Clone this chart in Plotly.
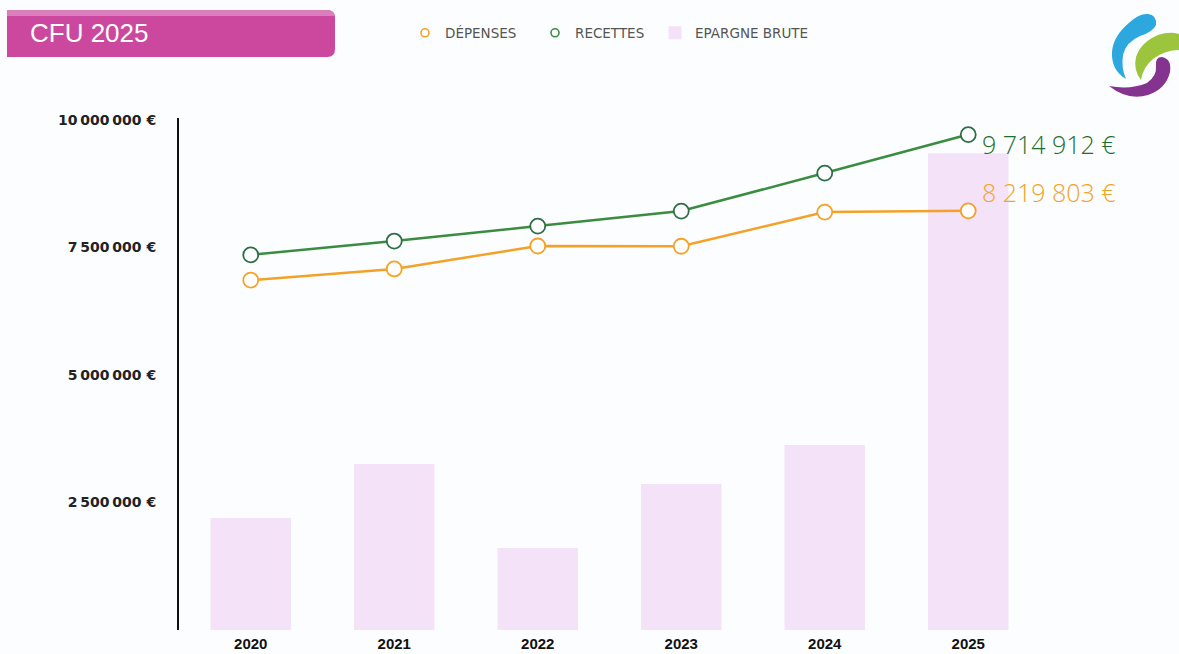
import plotly.graph_objects as go

# Data
annees = ["2020", "2021", "2022", "2023", "2024", "2025"]
depenses = [6860000, 7080000, 7530000, 7525000, 8195000, 8219803]
recettes = [7355000, 7627000, 7920000, 8215000, 8960000, 9714912]
epargne_brute = [2195000, 3255000, 1608000, 2862000, 3627000, 9350000]
y_ticks = [2500000, 5000000, 7500000, 10000000]
y_tick_labels = ["2\u2009500\u2009000 €", "5\u2009000\u2009000 €", "7\u2009500\u2009000 €", "10\u2009000\u2009000 €"]

ORANGE = "#f4a127"
GREEN = "#3a8c40"
GREEN_DARK = "#2c6e46"
GREEN_TEXT = "#1c6f2e"
BAR = "#f4e2f8"

W, H = 1179, 654
L, R, T, B = 179, 139, 118, 24
PW, PH = W - L - R, H - T - B


def px(x, y):
    """Pixel position on the page -> paper coordinates."""
    return (x - L) / PW, (H - B - y) / PH


def path(cmds):
    out = []
    for cmd, pts in cmds:
        coords = []
        for (x, y) in pts:
            a, b = px(x, y)
            coords.append(f"{a:.5f},{b:.5f}")
        out.append(cmd + " " + " ".join(coords))
    return " ".join(out) + " Z"


def fmt(v):
    return f"{v:,}".replace(",", " ") + " €"


fig = go.Figure()

fig.add_trace(go.Bar(
    x=annees, y=epargne_brute, name="EPARGNE BRUTE",
    marker=dict(color=BAR, line=dict(width=0)),
    showlegend=False, hoverinfo="skip",
))
fig.add_trace(go.Scatter(
    x=annees, y=depenses, name="DÉPENSES", mode="lines+markers",
    line=dict(color=ORANGE, width=2.5),
    marker=dict(symbol="circle", size=15, color="white", line=dict(color=ORANGE, width=1.8)),
    showlegend=False,
))
fig.add_trace(go.Scatter(
    x=annees, y=recettes, name="RECETTES", mode="lines+markers",
    line=dict(color=GREEN, width=2.5),
    marker=dict(symbol="circle", size=15, color="white", line=dict(color=GREEN_DARK, width=1.8)),
    showlegend=False,
))

# Legend entries (small symbols)
fig.add_trace(go.Scatter(x=[None], y=[None], name="DÉPENSES", mode="markers", legend="legend",
                         marker=dict(symbol="circle", size=8, color="white", line=dict(color=ORANGE, width=1.6))))
fig.add_trace(go.Scatter(x=[None], y=[None], name="RECETTES", mode="markers", legend="legend",
                         marker=dict(symbol="circle", size=8, color="white", line=dict(color=GREEN, width=1.6))))
fig.add_trace(go.Scatter(x=[None], y=[None], name="EPARGNE BRUTE", mode="markers", legend="legend2",
                         marker=dict(symbol="square", size=13, color=BAR)))

# End-of-line value labels
last = len(annees) - 1
fig.add_annotation(x=last, y=recettes[-1], text=fmt(recettes[-1]), showarrow=False,
                   xanchor="left", yanchor="middle", xshift=12, yshift=-9,
                   font=dict(family="Open Sans, Noto Sans, sans-serif", size=25, color=GREEN_TEXT, weight=300))
fig.add_annotation(x=last, y=depenses[-1], text=fmt(depenses[-1]), showarrow=False,
                   xanchor="left", yanchor="middle", xshift=12, yshift=19,
                   font=dict(family="Open Sans, Noto Sans, sans-serif", size=25, color=ORANGE, weight=300))

shapes = []
# Title banner with rounded right end
banner = path([
    ("M", [(7, 10)]),
    ("L", [(327, 10)]),
    ("Q", [(335, 10), (335, 18)]),
    ("L", [(335, 49)]),
    ("Q", [(335, 57), (327, 57)]),
    ("L", [(7, 57)]),
])
shapes.append(dict(type="path", xref="paper", yref="paper", path=banner,
                   fillcolor="#cc479e", line=dict(width=0)))
stripe = path([
    ("M", [(7, 10)]),
    ("L", [(327, 10)]),
    ("Q", [(334, 10), (335, 16)]),
    ("L", [(7, 16)]),
])
shapes.append(dict(type="path", xref="paper", yref="paper", path=stripe,
                   fillcolor="#da7fbd", line=dict(width=0)))

# Logo swooshes
blue = path([
    ("M", [(1148, 14)]),
    ("Q", [(1157, 15), (1156, 25)]),
    ("Q", [(1153, 32), (1140, 36)]),
    ("Q", [(1126, 42), (1123, 55)]),
    ("Q", [(1121, 68), (1126, 79)]),
    ("Q", [(1111, 70), (1112, 52)]),
    ("Q", [(1113, 36), (1130, 22)]),
    ("Q", [(1140, 13), (1148, 14)]),
])
green = path([
    ("M", [(1179, 34)]),
    ("L", [(1179, 50)]),
    ("Q", [(1165, 50), (1153, 59)]),
    ("Q", [(1143, 67), (1141, 80)]),
    ("Q", [(1133, 70), (1136, 57)]),
    ("Q", [(1141, 42), (1158, 35)]),
    ("Q", [(1170, 31), (1179, 34)]),
])
purple = path([
    ("M", [(1162, 57)]),
    ("Q", [(1172, 59), (1170, 72)]),
    ("Q", [(1166, 89), (1148, 95)]),
    ("Q", [(1128, 101), (1109, 86)]),
    ("Q", [(1130, 90), (1147, 83)]),
    ("Q", [(1157, 76), (1156, 66)]),
    ("Q", [(1155, 57), (1162, 57)]),
])
shapes.append(dict(type="path", xref="paper", yref="paper", path=blue, fillcolor="#2ca8de", line=dict(width=0)))
shapes.append(dict(type="path", xref="paper", yref="paper", path=green, fillcolor="#9cc43c", line=dict(width=0)))
shapes.append(dict(type="path", xref="paper", yref="paper", path=purple, fillcolor="#84348e", line=dict(width=0)))
fig.update_layout(shapes=shapes)

tx, ty = px(28, 33)
fig.add_annotation(xref="paper", yref="paper", x=tx, y=ty, text="CFU 2025", showarrow=False,
                   xanchor="left", yanchor="middle",
                   font=dict(family="Liberation Sans, Arial, sans-serif", size=26, color="white"))

legend_font = dict(family="DejaVu Sans, sans-serif", size=13.5, color="#555555")
lx, ly = px(405, 33)
l2x, _ = px(655, 33)
fig.update_layout(
    width=W, height=H,
    margin=dict(l=L, r=R, t=T, b=B, autoexpand=False),
    paper_bgcolor="#fcfdfe", plot_bgcolor="#fcfdfe",
    bargap=0.44,
    showlegend=True,
    legend=dict(orientation="h", x=lx, y=ly, xanchor="left", yanchor="middle",
                font=legend_font, bgcolor="rgba(0,0,0,0)", itemwidth=30,
                traceorder="normal", entrywidth=85),
    legend2=dict(orientation="h", x=l2x, y=ly, xanchor="left", yanchor="middle",
                 font=legend_font, bgcolor="rgba(0,0,0,0)", itemwidth=30),
    xaxis=dict(type="category", range=[-0.5, 5.5], showline=False, showgrid=False, zeroline=False,
               ticks="", automargin=False,
               tickfont=dict(family="Liberation Sans, Arial, sans-serif",
                             size=15, color="#111111", weight="bold"),
               ticklabelstandoff=3),
    yaxis=dict(range=[0, 10040000], tickvals=y_ticks, ticktext=y_tick_labels, automargin=False,
               showline=True, linecolor="#111111", linewidth=2, showgrid=False, zeroline=False,
               ticks="", ticklabelstandoff=18,
               tickfont=dict(family="DejaVu Sans, sans-serif", size=14, color="#222222", weight="bold")),
    hovermode=False,
)
fig.update_traces(cliponaxis=False, selector=dict(type="scatter"))

fig.write_html("out.html")
